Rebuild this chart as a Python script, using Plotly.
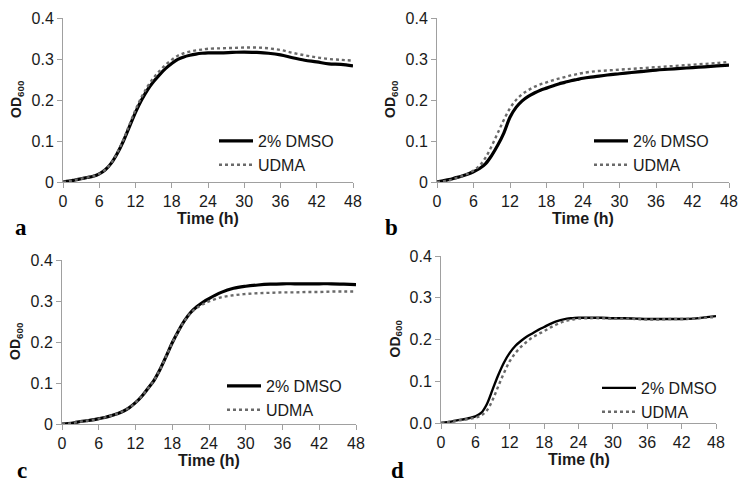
import plotly.graph_objs as go

# page body adds an 8px margin, so the figure is 8px smaller than the window
OFF = 8
W, H = 748 - OFF, 490 - OFF

# time points (h)
hours = list(range(0, 25)) + list(range(26, 49, 2))

# panel a
a_dmso = [0, 0.002, 0.005, 0.008, 0.011, 0.014, 0.02, 0.03, 0.046, 0.07, 0.1, 0.135, 0.17,
          0.2, 0.225, 0.245, 0.262, 0.277, 0.289, 0.299, 0.305, 0.309, 0.312, 0.314, 0.315,
          0.315, 0.316, 0.317, 0.316, 0.314, 0.31, 0.303, 0.297, 0.293, 0.288, 0.287, 0.283]
a_udma = [0, 0.002, 0.005, 0.008, 0.011, 0.014, 0.02, 0.03, 0.047, 0.072, 0.103, 0.14, 0.176,
          0.207, 0.233, 0.254, 0.271, 0.286, 0.298, 0.308, 0.314, 0.318, 0.321, 0.323, 0.325,
          0.326, 0.327, 0.328, 0.328, 0.326, 0.322, 0.315, 0.309, 0.304, 0.3, 0.298, 0.296]
# panel b
b_dmso = [0, 0.003, 0.006, 0.01, 0.014, 0.019, 0.025, 0.033, 0.045, 0.065, 0.09, 0.12, 0.158,
          0.182, 0.198, 0.209, 0.217, 0.224, 0.229, 0.234, 0.239, 0.243, 0.247, 0.25, 0.253,
          0.257, 0.261, 0.264, 0.267, 0.27, 0.273, 0.275, 0.277, 0.279, 0.281, 0.283, 0.285]
b_udma = [0, 0.002, 0.004, 0.009, 0.014, 0.02, 0.028, 0.04, 0.06, 0.088, 0.12, 0.152, 0.18,
          0.2, 0.214, 0.224, 0.232, 0.238, 0.243, 0.248, 0.252, 0.256, 0.26, 0.263, 0.266,
          0.27, 0.272, 0.274, 0.276, 0.278, 0.28, 0.282, 0.284, 0.286, 0.288, 0.29, 0.293]
# panel c
c_dmso = [0, 0.001, 0.003, 0.006, 0.008, 0.01, 0.013, 0.016, 0.02, 0.025, 0.031, 0.04, 0.052,
          0.067, 0.086, 0.106, 0.133, 0.165, 0.198, 0.227, 0.252, 0.272, 0.286, 0.297, 0.306,
          0.321, 0.331, 0.336, 0.339, 0.341, 0.342, 0.342, 0.342, 0.342, 0.342, 0.341, 0.34]
c_udma = [0, 0.001, 0.003, 0.006, 0.008, 0.01, 0.013, 0.016, 0.02, 0.025, 0.031, 0.04, 0.052,
          0.067, 0.086, 0.106, 0.133, 0.165, 0.198, 0.227, 0.252, 0.271, 0.283, 0.292, 0.299,
          0.309, 0.314, 0.317, 0.319, 0.32, 0.321, 0.321, 0.322, 0.322, 0.323, 0.323, 0.323]
# panel d
d_dmso = [0, 0.002, 0.004, 0.007, 0.009, 0.012, 0.016, 0.024, 0.045, 0.08, 0.115, 0.145, 0.168,
          0.185, 0.197, 0.207, 0.215, 0.223, 0.23, 0.237, 0.243, 0.247, 0.25, 0.251, 0.252,
          0.252, 0.252, 0.251, 0.251, 0.25, 0.249, 0.249, 0.249, 0.249, 0.25, 0.253, 0.256]
d_udma = [0, 0.002, 0.003, 0.006, 0.008, 0.01, 0.013, 0.018, 0.03, 0.055, 0.088, 0.12, 0.148,
          0.168, 0.183, 0.195, 0.205, 0.213, 0.22, 0.228, 0.235, 0.241, 0.245, 0.248, 0.25,
          0.251, 0.251, 0.25, 0.25, 0.249, 0.248, 0.248, 0.249, 0.249, 0.25, 0.252, 0.254]

names = ['2% DMSO', 'UDMA']
panels = ['a', 'b', 'c', 'd']
series = {'a': (a_dmso, a_udma), 'b': (b_dmso, b_udma),
          'c': (c_dmso, c_udma), 'd': (d_dmso, d_udma)}
xticks = [0, 6, 12, 18, 24, 30, 36, 42, 48]


# window pixels -> paper fraction
def px(x):
    return (x - OFF) / W


def py(y):
    return 1 - (y - OFF) / H


# plot-area boxes in window pixels: left, right, top, bottom
boxes = {'a': (63, 353, 18, 182), 'b': (437, 729, 18, 182),
         'c': (62, 356, 260, 424), 'd': (441, 716, 256, 423)}
# legend top-left, window pixels
leg_pos = {'a': (214, 124), 'b': (589, 124), 'c': (222, 369), 'd': (597, 371)}
# panel letter centres, window pixels
letter_pos = {'a': (21, 228), 'b': (391, 228), 'c': (22, 470), 'd': (398, 470)}
dmso_w = {'a': 3.2, 'b': 3.2, 'c': 3.2, 'd': 2.4}

FONT = 'Liberation Sans, Arial, sans-serif'
FS = 16

fig = go.Figure()
layout = dict(width=W, height=H,
              margin=dict(l=0, r=0, t=0, b=0, pad=0, autoexpand=False),
              paper_bgcolor='white', plot_bgcolor='white',
              font=dict(family=FONT, color='#1a1a1a', size=FS),
              showlegend=True)
annotations = []

for i, p in enumerate(panels):
    n = '' if i == 0 else str(i + 1)
    l, r, t, b = boxes[p]
    leg = 'legend' + n
    dmso, udma = series[p]
    fig.add_trace(go.Scatter(x=hours, y=dmso, name=names[0], mode='lines',
                             line=dict(color='black', width=dmso_w[p], shape='spline'),
                             xaxis='x' + n, yaxis='y' + n, legend=leg))
    fig.add_trace(go.Scatter(x=hours, y=udma, name=names[1], mode='lines',
                             line=dict(color='#6a6a6a', width=2.4, dash='dot', shape='spline'),
                             xaxis='x' + n, yaxis='y' + n, legend=leg))
    layout['xaxis' + n] = dict(domain=[px(l), px(r)], anchor='y' + n, range=[0, 48],
                               tickvals=xticks, showline=True, linecolor='#a0a0a0',
                               ticks='outside', ticklen=5, tickcolor='#a0a0a0',
                               showgrid=False, zeroline=False, automargin=False,
                               tickfont=dict(size=FS, family=FONT))
    layout['yaxis' + n] = dict(domain=[py(b), py(t)], anchor='x' + n, range=[0, 0.4],
                               dtick=0.1, showline=True, linecolor='#a0a0a0',
                               ticks='outside', ticklen=5, tickcolor='#a0a0a0',
                               showgrid=False, zeroline=False, automargin=False,
                               tickformat='.1f' if p == 'd' else '',
                               tickfont=dict(size=FS, family=FONT))
    lx, ly = leg_pos[p]
    layout[leg] = dict(x=px(lx), y=py(ly), xanchor='left', yanchor='top',
                       bgcolor='rgba(0,0,0,0)', itemwidth=34,
                       font=dict(size=FS, family=FONT, color='#1a1a1a'))
    # axis titles and panel letter
    annotations.append(dict(text='<b>Time (h)</b>', x=px((l + r) / 2), y=py(b + 36),
                            xanchor='center', yanchor='middle',
                            xref='paper', yref='paper', showarrow=False,
                            font=dict(size=FS, family=FONT)))
    annotations.append(dict(text='<b>OD<sub>600</sub></b>', x=px(l - 46), y=py((t + b) / 2 - 1),
                            xanchor='center', yanchor='middle',
                            xref='paper', yref='paper', showarrow=False, textangle=-90,
                            font=dict(size=14, family=FONT)))
    lx, ly = letter_pos[p]
    annotations.append(dict(text='<b>' + p + '</b>', x=px(lx), y=py(ly),
                            xanchor='center', yanchor='middle',
                            xref='paper', yref='paper', showarrow=False,
                            font=dict(size=23, family='Liberation Serif, Times New Roman, serif',
                                      color='black')))

layout['annotations'] = annotations
fig.update_layout(**layout)

fig.write_html("out.html")
